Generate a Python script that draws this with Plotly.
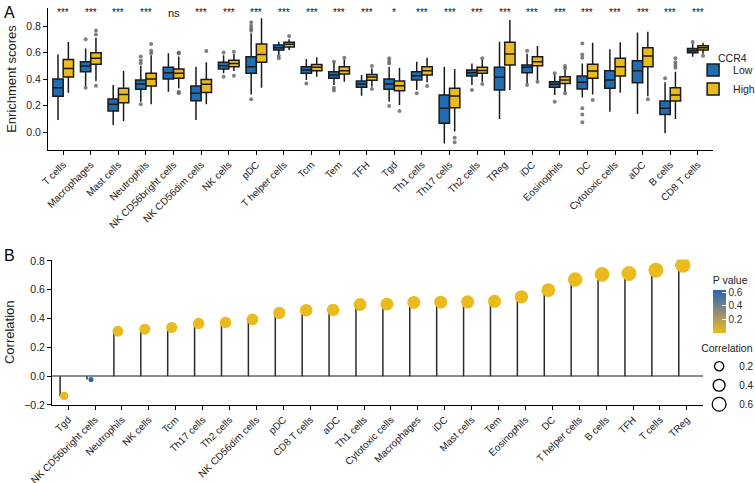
import plotly.graph_objects as go

# ---------------- panel A: enrichment scores by CCR4 group ----------------
cells = ["T cells", "Macrophages", "Mast cells", "Neutrophils", "NK CD56bright cells",
         "NK CD56dim cells", "NK cells", "pDC", "T helper cells", "Tcm", "Tem", "TFH",
         "Tgd", "Th1 cells", "Th17 cells", "Th2 cells", "TReg", "iDC", "Eosinophils",
         "DC", "Cytotoxic cells", "aDC", "B cells", "CD8 T cells"]
signif = ["***", "***", "***", "***", "ns", "***", "***", "***", "***", "***", "***", "***",
          "*", "***", "***", "***", "***", "***", "***", "***", "***", "***", "***", "***"]

# whisker low, q1, median, q3, whisker high
low_lo = [0.09, 0.347, 0.053, 0.229, 0.304, 0.09, 0.443, 0.284, 0.585, 0.392, 0.355, 0.274,
          0.229, 0.317, -0.086, 0.355, 0.098, 0.367, 0.279, 0.26, 0.153, 0.136, -0.01, 0.569]
low_q1 = [0.269, 0.455, 0.158, 0.322, 0.40, 0.236, 0.475, 0.443, 0.619, 0.443, 0.405, 0.337,
          0.322, 0.392, 0.066, 0.423, 0.317, 0.448, 0.337, 0.325, 0.33, 0.372, 0.133, 0.599]
low_med = [0.335, 0.498, 0.209, 0.362, 0.448, 0.292, 0.501, 0.493, 0.636, 0.468, 0.43, 0.362,
           0.362, 0.425, 0.179, 0.448, 0.413, 0.488, 0.36, 0.375, 0.392, 0.463, 0.179, 0.614]
low_q3 = [0.40, 0.531, 0.249, 0.392, 0.488, 0.347, 0.526, 0.569, 0.657, 0.493, 0.455, 0.385,
          0.40, 0.455, 0.279, 0.468, 0.488, 0.506, 0.38, 0.423, 0.463, 0.538, 0.234, 0.631]
low_hi = [0.586, 0.631, 0.355, 0.50, 0.594, 0.493, 0.58, 0.745, 0.682, 0.551, 0.525, 0.43,
          0.49, 0.531, 0.493, 0.518, 0.682, 0.59, 0.43, 0.518, 0.624, 0.752, 0.375, 0.668]

high_lo = [0.297, 0.385, 0.083, 0.209, 0.33, 0.209, 0.46, 0.335, 0.619, 0.418, 0.38, 0.342,
           0.204, 0.375, 0.003, 0.38, 0.317, 0.392, 0.30, 0.284, 0.297, 0.27, 0.098, 0.59]
high_q1 = [0.415, 0.511, 0.221, 0.347, 0.405, 0.299, 0.493, 0.526, 0.642, 0.463, 0.438, 0.39,
           0.312, 0.43, 0.184, 0.443, 0.506, 0.501, 0.367, 0.405, 0.423, 0.493, 0.234, 0.619]
high_med = [0.48, 0.556, 0.284, 0.40, 0.443, 0.36, 0.518, 0.586, 0.662, 0.488, 0.463, 0.415,
            0.35, 0.463, 0.272, 0.465, 0.589, 0.531, 0.392, 0.46, 0.493, 0.574, 0.279, 0.636]
high_q3 = [0.548, 0.599, 0.33, 0.443, 0.475, 0.397, 0.541, 0.664, 0.677, 0.51, 0.493, 0.435,
           0.385, 0.493, 0.33, 0.488, 0.677, 0.569, 0.418, 0.511, 0.556, 0.636, 0.335, 0.652]
high_hi = [0.68, 0.712, 0.46, 0.58, 0.57, 0.526, 0.59, 0.858, 0.70, 0.564, 0.55, 0.48,
           0.486, 0.561, 0.475, 0.545, 0.845, 0.649, 0.47, 0.674, 0.677, 0.757, 0.455, 0.674]

low_out = [[], [0.70, 0.335], [], [0.52, 0.54, 0.57, 0.209], [], [], [0.60, 0.418],
           [0.828, 0.803, 0.782, 0.765, 0.247], [0.576, 0.556], [0.367], [0.531, 0.335, 0.314],
           [], [0.556, 0.536, 0.518, 0.196], [0.292], [], [0.317], [], [0.614, 0.355],
           [0.443, 0.229], [0.669, 0.586, 0.561, 0.179, 0.133, 0.073], [], [], [0.405], [0.679]]
high_out = [[], [0.767, 0.737, 0.35], [], [0.664, 0.614, 0.594], [0.594, 0.60, 0.304, 0.292],
            [0.611], [0.606, 0.425], [], [0.725], [], [0.561], [0.498, 0.325], [0.158], [0.347],
            [-0.043, -0.078], [0.556, 0.362], [], [0.38], [0.498, 0.48, 0.292], [0.242], [],
            [0.247], [0.556, 0.526, 0.506, 0.486], [0.576]]

# ---------------- panel B: correlation lollipop ----------------
corr_cells = ["Tgd", "NK CD56bright cells", "Neutrophils", "NK cells", "Tcm", "Th17 cells",
              "Th2 cells", "NK CD56dim cells", "pDC", "CD8 T cells", "aDC", "Th1 cells",
              "Cytotoxic cells", "Macrophages", "iDC", "Mast cells", "Tem", "Eosinophils", "DC",
              "T helper cells", "B cells", "TFH", "T cells", "TReg"]
corr = [-0.137, -0.023, 0.312, 0.326, 0.338, 0.366, 0.373, 0.394, 0.44, 0.458, 0.46, 0.498,
        0.50, 0.512, 0.514, 0.516, 0.52, 0.551, 0.597, 0.671, 0.706, 0.713, 0.736, 0.771]
pval = [0.004, 0.636, 0, 0, 0, 0, 0, 0, 0, 0, 0, 0,
        0, 0, 0, 0, 0, 0, 0, 0, 0, 0, 0, 0]
size_keys = [0.2, 0.4, 0.6]

BLUE = "#1F6DB3"
YELLOW = "#EBBA1F"
FONT = "Liberation Sans, Arial, sans-serif"


def dot_size(r):
    return 14 * abs(r) ** 0.5 + 3


fig = go.Figure()

groups = [("Low", BLUE, low_lo, low_q1, low_med, low_q3, low_hi, low_out),
          ("High", YELLOW, high_lo, high_q1, high_med, high_q3, high_hi, high_out)]
for name, col, lo, q1, med, q3, hi, outs in groups:
    fig.add_trace(go.Box(
        x=cells, q1=q1, median=med, q3=q3, lowerfence=lo, upperfence=hi,
        name=name, offsetgroup=name, fillcolor=col, boxpoints=False,
        line=dict(color="#1a1a1a", width=1.5), whiskerwidth=0,
        legend="legend", xaxis="x", yaxis="y",
    ))

for name, col, lo, q1, med, q3, hi, outs in groups:
    ox, oy = [], []
    for c, vals in zip(cells, outs):
        for v in vals:
            ox.append(c)
            oy.append(v)
    fig.add_trace(go.Scatter(
        x=ox, y=oy, mode="markers", offsetgroup=name, showlegend=False,
        marker=dict(color="#555555", size=4, opacity=0.75),
        xaxis="x", yaxis="y",
    ))

# stems
sx, sy = [], []
for c, r in zip(corr_cells, corr):
    sx += [c, c, None]
    sy += [0, r, None]
fig.add_trace(go.Scatter(x=sx, y=sy, mode="lines", line=dict(color="#2b2b2b", width=1.5),
                         showlegend=False, xaxis="x2", yaxis="y2", hoverinfo="skip"))

fig.add_trace(go.Scatter(
    x=corr_cells, y=corr, mode="markers", showlegend=False, xaxis="x2", yaxis="y2",
    marker=dict(
        size=[dot_size(r) for r in corr], color=pval, cmin=0, cmax=0.636,
        colorscale=[[0, YELLOW], [0.5, "#918A7C"], [1, "#2166B2"]],
        line=dict(width=0), opacity=1,
        colorbar=dict(
            title=dict(text="P value", side="top", font=dict(size=10.5)),
            tickvals=[0.2, 0.4, 0.6], ticks="inside", tickcolor="white", ticklen=4,
            tickfont=dict(size=10, color="#333"), outlinewidth=0,
            thickness=13, lenmode="pixels", len=60,
            x=0.944, xanchor="left", y=0.373, yanchor="middle", xpad=0, ypad=0,
        ),
    ),
))

for k in size_keys:
    fig.add_trace(go.Scatter(
        x=[None], y=[None], mode="markers", name=str(k), legend="legend2",
        xaxis="x2", yaxis="y2",
        marker=dict(size=dot_size(k), color="white", line=dict(color="black", width=1.3)),
    ))

annotations = [dict(x=c, y=0.9, xref="x", yref="y", text=s, showarrow=False,
                    font=dict(size=11 if s == "ns" else 10, color="#111"))
               for c, s in zip(cells, signif)]
annotations += [
    dict(x=0.003, y=0.995, xref="paper", yref="paper", text="A", showarrow=False,
         xanchor="left", yanchor="top", font=dict(size=16, color="black")),
    dict(x=0.003, y=0.492, xref="paper", yref="paper", text="B", showarrow=False,
         xanchor="left", yanchor="top", font=dict(size=16, color="black")),
    # legend title for the box groups
    dict(x=0.949, y=0.896, xref="paper", yref="paper", text="CCR4", showarrow=False,
         xanchor="left", yanchor="top", font=dict(size=10.5, color="#222")),
]

axis_common = dict(showline=True, linecolor="black", linewidth=1, ticks="outside",
                   ticklen=4, tickcolor="black", showgrid=False, zeroline=False,
                   automargin=False)
xtick_font = dict(size=10, color="#222")
ytick_font = dict(size=10.5, color="#222")

fig.update_layout(
    width=755, height=483,
    margin=dict(l=0, r=0, t=0, b=0, autoexpand=False),
    paper_bgcolor="white", plot_bgcolor="white",
    font=dict(family=FONT, color="#222"),
    boxmode="group", boxgap=0.25, boxgroupgap=0,
    scattermode="group", scattergap=0.25,
    xaxis=dict(**axis_common, domain=[0.0636, 0.9444], anchor="y", tickfont=xtick_font,
               range=[-0.55, 23.55], tickangle=-45, categoryorder="array",
               categoryarray=cells),
    yaxis=dict(**axis_common, domain=[0.6894, 0.9834], anchor="x", tickfont=ytick_font,
               range=[-0.136, 0.936], tickvals=[0, 0.2, 0.4, 0.6, 0.8], tickformat=".1f",
               title=dict(text="Enrichment scores", font=dict(size=13), standoff=6)),
    xaxis2=dict(**axis_common, domain=[0.0689, 0.9311], anchor="y2", tickfont=xtick_font,
                range=[-0.6, 23.6], tickangle=-45, categoryorder="array",
                categoryarray=corr_cells),
    yaxis2=dict(**{**axis_common, "zeroline": True}, domain=[0.1615, 0.4627], anchor="x2",
                tickfont=ytick_font,
                range=[-0.2, 0.81], tickvals=[-0.2, 0, 0.2, 0.4, 0.6, 0.8], tickformat=".1f",
                zerolinecolor="#8c8c8c", zerolinewidth=1.5,
                title=dict(text="Correlation", font=dict(size=13), standoff=6)),
    legend=dict(x=0.918, y=0.885, xanchor="left", yanchor="top", font=dict(size=10.5),
                bgcolor="rgba(0,0,0,0)", tracegroupgap=0, itemwidth=30),
    legend2=dict(title=dict(text="Correlation", font=dict(size=10.5)), x=0.926, y=0.3,
                 xanchor="left", yanchor="top", font=dict(size=10),
                 bgcolor="rgba(0,0,0,0)", itemwidth=30),
    annotations=annotations,
)

fig.write_html("out.html", config={"displayModeBar": False},
               post_script="document.body.style.margin='0';")
